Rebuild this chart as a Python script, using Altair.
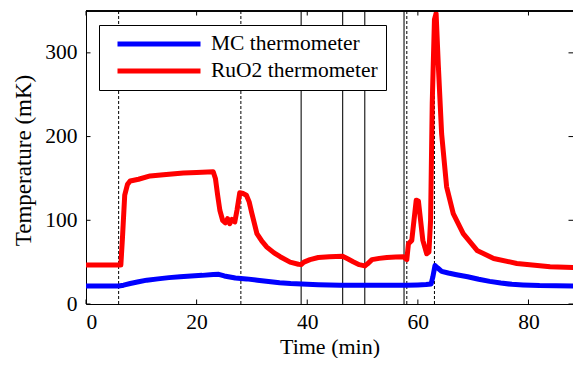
import altair as alt
import pandas as pd

# ---- data ----
time_mc = [0, 5.9, 6.8, 8, 9.5, 11, 13, 15, 17, 19,
           21, 23, 24, 25, 27, 29, 31, 33, 35, 37,
           39, 42, 46, 50, 54, 58, 60, 61.5, 62.4, 62.7,
           63.1, 63.6, 64.3, 65.5, 67, 69, 71, 73, 75, 77,
           79, 82, 85, 89.5]
temp_mc = [21.5, 21.5, 22.5, 24.5, 26.5, 28.5, 30, 31.5, 32.5, 33.5,
           34.2, 35.2, 35.5, 33.5, 31, 30, 28.5, 27, 25.5, 24.5,
           23.8, 23, 22.5, 22.3, 22.3, 22.5, 22.8, 23.2, 24, 32,
           46, 43, 39, 37, 35, 32.5, 29.5, 27, 25, 23.5,
           22.8, 22, 21.7, 21.5]

time_ruo2 = [0, 6.3, 6.6, 7.0, 7.5, 8.0, 9.5, 11.6, 14, 17.6,
             20, 23.0, 23.4, 23.8, 24.2, 24.7, 25.2, 25.6, 26.0, 26.4,
             26.9, 27.3, 27.8, 28.4, 29.0, 29.5, 30.0, 30.9, 31.8, 32.7,
             34, 35.1, 36.9, 38.4, 38.9, 39.4, 40.5, 42, 44, 46.4,
             47.3, 48.3, 49.4, 50.4, 50.9, 51.7, 53, 54.4, 56, 57.4,
             58.0, 58.3, 58.9, 59.7, 60.1, 60.9, 61.6, 62.0, 62.3, 62.6,
             63.0, 63.3, 63.7, 64.3, 65.2, 66.4, 68.2, 70.7, 73.7, 77.9,
             83.9, 89.5]
temp_ruo2 = [46.5, 46.5, 80, 130, 143, 147, 149, 153, 154.5, 156.5,
             157, 158, 150, 130, 112, 100, 97, 102, 96, 101,
             98, 112, 133, 132, 130, 122, 108, 84, 75, 68,
             61, 56.5, 50, 47.5, 47.2, 50, 53, 55.5, 56.5, 57,
             54, 50.5, 47, 45.5, 48, 53, 54.5, 55.5, 56, 56.3,
             53, 72, 76, 124, 123, 76, 60, 62, 100, 240,
             340, 347, 285, 203, 140, 108, 84, 64, 54.4, 48.4,
             44.4, 43.2]

series_names = ["MC thermometer", "RuO2 thermometer"]
series_colors = ["#0000ff", "#ff0000"]

dashed_times = [5.9, 28.0, 58.0, 63.0]
solid_times = [38.9, 46.4, 50.4, 57.5]

x_ticks = [0, 20, 40, 60, 80]
y_ticks = [0, 100, 200, 300]

# ---- layout ----
PAD_L, PAD_T = 78, 3
SVG_W, SVG_H = 565, 350
W, H = SVG_W - PAD_L, 293
X_MAX = W / 5.531
FONT = "Liberation Serif"
TICK = 4.5

df = pd.concat([
    pd.DataFrame({"time": time_mc, "temp": temp_mc, "series": series_names[0]}),
    pd.DataFrame({"time": time_ruo2, "temp": temp_ruo2, "series": series_names[1]}),
])

x_scale = alt.Scale(domain=[0, X_MAX], nice=False, zero=False)
y_scale = alt.Scale(domain=[0, 350], nice=False)
x_axis = alt.Axis(title="Time (min)", values=x_ticks, labelPadding=7,
                  titleFontSize=22, titleBaseline="alphabetic", titleY=49)
y_axis = alt.Axis(title="Temperature (mK)", values=y_ticks, labelPadding=9,
                  titleFontSize=23, titleBaseline="middle", titleX=-63, titleY=149)

lines = alt.Chart(df).mark_line(strokeWidth=5, clip=True, strokeJoin="round").encode(
    x=alt.X("time:Q", scale=x_scale, axis=x_axis),
    y=alt.Y("temp:Q", scale=y_scale, axis=y_axis),
    color=alt.Color("series:N",
                    scale=alt.Scale(domain=series_names, range=series_colors),
                    legend=alt.Legend(orient="none", legendX=13, legendY=14, title=None,
                                      fillColor="white", strokeColor="black", padding=8,
                                      symbolType="stroke", symbolSize=6889,
                                      symbolStrokeWidth=5, symbolOffset=8,
                                      labelFont=FONT, labelFontSize=21.5,
                                      labelColor="black", labelOffset=8, rowPadding=5,
                                      clipHeight=22, labelLimit=0)),
)

dashed = alt.Chart(pd.DataFrame({"t": dashed_times})).mark_rule(
    color="black", strokeWidth=1, strokeDash=[3, 2]
).encode(x=alt.X("t:Q", scale=x_scale, axis=x_axis))

solid = alt.Chart(pd.DataFrame({"t": solid_times})).mark_rule(
    color="#222222", strokeWidth=1.2
).encode(x=alt.X("t:Q", scale=x_scale, axis=x_axis))

xt = pd.DataFrame({"v": x_ticks})
yt = pd.DataFrame({"v": y_ticks})

xtick_bottom = alt.Chart(xt).mark_rule(color="black", strokeWidth=1).encode(
    x=alt.X("v:Q", scale=x_scale, axis=x_axis), y=alt.value(H), y2=alt.value(H - TICK))
xtick_top = alt.Chart(xt).mark_rule(color="black", strokeWidth=1).encode(
    x=alt.X("v:Q", scale=x_scale, axis=x_axis), y=alt.value(0), y2=alt.value(TICK))
ytick_left = alt.Chart(yt).mark_rule(color="black", strokeWidth=1).encode(
    y=alt.Y("v:Q", scale=y_scale, axis=y_axis), x=alt.value(0), x2=alt.value(TICK))
ytick_right = alt.Chart(yt).mark_rule(color="black", strokeWidth=1).encode(
    y=alt.Y("v:Q", scale=y_scale, axis=y_axis), x=alt.value(W - TICK), x2=alt.value(W))
top_border = alt.Chart(xt).mark_rule(color="black", strokeWidth=1).encode(
    x=alt.value(0), x2=alt.value(W), y=alt.value(0))

chart = alt.layer(
    dashed, solid, lines, xtick_bottom, xtick_top, ytick_left, ytick_right, top_border
).properties(
    width=W, height=H,
    autosize=alt.AutoSizeParams(type="none"),
    padding={"left": PAD_L, "top": PAD_T, "right": 0, "bottom": SVG_H - PAD_T - H},
).configure_view(stroke=None).configure_axis(
    grid=False, domainColor="black", domainWidth=1, tickSize=0,
    labelFont=FONT, labelFontSize=21.5, labelColor="black",
    titleFont=FONT, titleFontWeight="normal", titleColor="black",
)

chart.save("out.html", embed_options={"renderer": "svg", "actions": False})
